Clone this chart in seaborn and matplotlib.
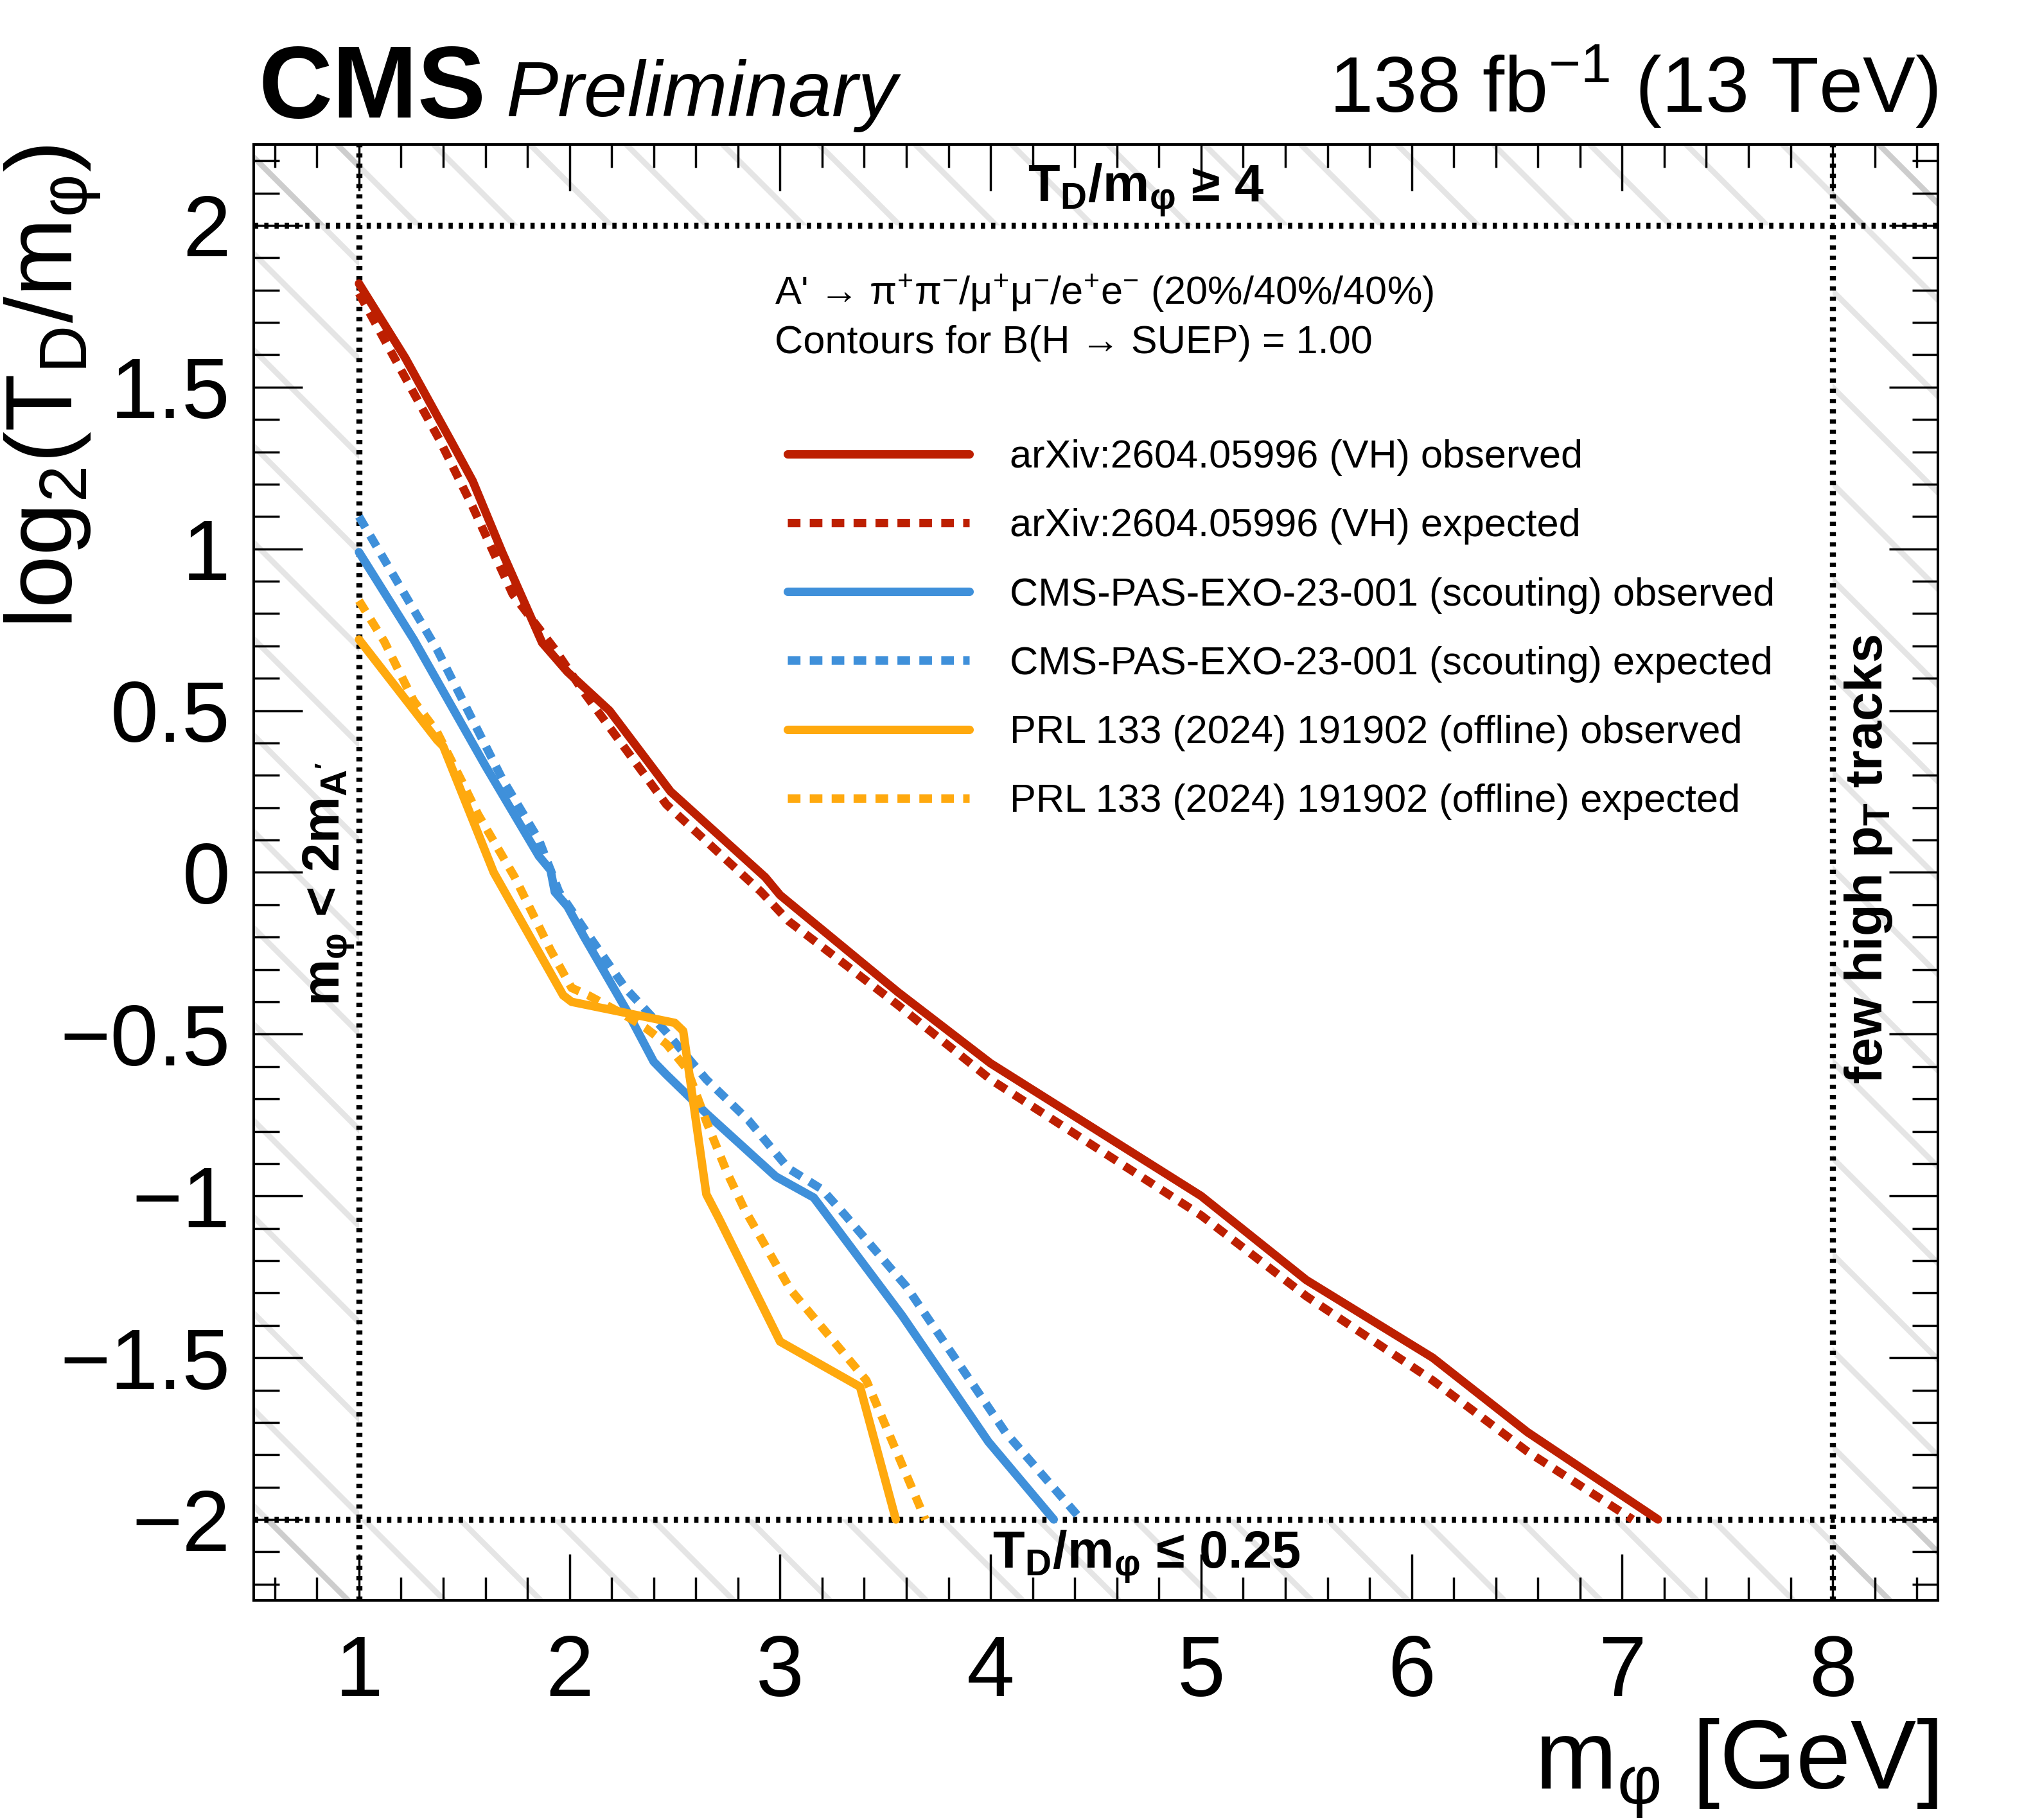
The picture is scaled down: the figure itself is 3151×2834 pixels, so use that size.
import matplotlib
matplotlib.use('Agg')
import matplotlib.pyplot as plt
from matplotlib.lines import Line2D
from matplotlib.ticker import MultipleLocator
import pandas as pd
import seaborn as sns

analyses = ['arXiv:2604.05996 (VH)',
            'CMS-PAS-EXO-23-001 (scouting)',
            'PRL 133 (2024) 191902 (offline)']
kinds = ['observed', 'expected']
colors = ['#bd1f01', '#3f90da', '#ffa90e']

# contour points: m_phi [GeV] vs log2(T_D/m_phi)
vh_obs_x = [1.0, 1.22, 1.44, 1.54, 1.68, 1.87, 1.99, 2.19, 2.48, 2.93, 3.00, 3.56, 4.0, 5.0, 5.5, 6.1, 6.55, 7.17]
vh_obs_y = [1.82, 1.59, 1.33, 1.21, 0.99, 0.71, 0.62, 0.50, 0.25, -0.015, -0.07, -0.37, -0.59, -1.0, -1.26, -1.5, -1.73, -2.0]
vh_exp_x = [1.0, 1.16, 1.38, 1.54, 1.73, 1.93, 2.07, 2.46, 2.91, 3.04, 3.56, 4.0, 5.0, 5.5, 6.1, 6.55, 7.05]
vh_exp_y = [1.79, 1.60, 1.34, 1.13, 0.86, 0.69, 0.555, 0.21, -0.06, -0.15, -0.41, -0.64, -1.06, -1.31, -1.57, -1.79, -2.0]

sc_obs_x = [1.0, 1.26, 1.60, 1.855, 1.91, 1.93, 1.99, 2.07, 2.27, 2.40, 2.46, 2.65, 2.98, 3.16, 3.58, 3.99, 4.30]
sc_obs_y = [0.99, 0.72, 0.33, 0.05, 0.007, -0.06, -0.105, -0.20, -0.425, -0.585, -0.625, -0.745, -0.94, -1.005, -1.37, -1.76, -2.0]
sc_exp_x = [1.0, 1.37, 1.68, 1.855, 1.95, 2.07, 2.265, 2.46, 2.65, 2.85, 3.04, 3.20, 3.31, 3.60, 4.07, 4.43]
sc_exp_y = [1.10, 0.69, 0.29, 0.10, -0.06, -0.175, -0.357, -0.494, -0.64, -0.766, -0.915, -0.98, -1.06, -1.28, -1.73, -2.0]

off_obs_x = [1.0, 1.37, 1.40, 1.64, 1.97, 2.01, 2.50, 2.54, 2.65, 2.71, 3.0, 3.38, 3.55]
off_obs_y = [0.72, 0.41, 0.39, 0.0, -0.38, -0.40, -0.465, -0.49, -0.995, -1.07, -1.45, -1.59, -2.0]
off_exp_x = [1.0, 1.12, 1.26, 1.37, 1.49, 1.565, 1.74, 1.91, 2.01, 2.09, 2.26, 2.36, 2.46, 2.56, 2.65, 2.75, 2.83, 3.05, 3.41, 3.69]
off_exp_y = [0.84, 0.714, 0.53, 0.435, 0.28, 0.18, -0.015, -0.24, -0.357, -0.38, -0.44, -0.48, -0.53, -0.61, -0.77, -0.93, -1.04, -1.29, -1.57, -2.0]

# validity boundaries and plot range
x_bounds = [1.0, 8.0]
y_bounds = [-2.0, 2.0]
x_range = (0.5, 8.5)
y_range = (-2.25, 2.25)

xticks = [1, 2, 3, 4, 5, 6, 7, 8]
xtick_labels = ['1', '2', '3', '4', '5', '6', '7', '8']
yticks = [-2, -1.5, -1, -0.5, 0, 0.5, 1, 1.5, 2]
ytick_labels = ['\u22122', '\u22121.5', '\u22121', '\u22120.5', '0', '0.5', '1', '1.5', '2']


def long_table():
    curves = [(analyses[0], 'observed', vh_obs_x, vh_obs_y),
              (analyses[0], 'expected', vh_exp_x, vh_exp_y),
              (analyses[1], 'observed', sc_obs_x, sc_obs_y),
              (analyses[1], 'expected', sc_exp_x, sc_exp_y),
              (analyses[2], 'observed', off_obs_x, off_obs_y),
              (analyses[2], 'expected', off_exp_x, off_exp_y)]
    rows = []
    for name, kind, xs, ys in curves:
        for x, y in zip(xs, ys):
            rows.append({'m_phi': x, 'log2': y, 'analysis': name, 'kind': kind})
    return pd.DataFrame(rows)


if __name__ == '__main__':
    sns.set_theme(style='ticks')
    plt.rcParams['font.family'] = ['Liberation Sans', 'DejaVu Sans']
    plt.rcParams['mathtext.fontset'] = 'custom'
    plt.rcParams['mathtext.rm'] = 'Liberation Sans'
    plt.rcParams['mathtext.it'] = 'Liberation Sans:italic'
    plt.rcParams['mathtext.bf'] = 'Liberation Sans:bold'
    plt.rcParams['mathtext.default'] = 'regular'
    plt.rcParams['hatch.linewidth'] = 1.4
    plt.rcParams['axes.linewidth'] = 0.65
    for key in ['text.color', 'axes.labelcolor', 'axes.edgecolor', 'xtick.color', 'ytick.color']:
        plt.rcParams[key] = 'black'

    dpi = 450
    fig = plt.figure(figsize=(3151 / dpi, 2834 / dpi))
    ax = fig.add_axes([0.12536, 0.12068, 0.83212, 0.79993])

    # hatched regions outside the validity boundaries
    hatch_kw = dict(facecolor='none', edgecolor=(0, 0, 0, 0.10), hatch='\\', lw=0, zorder=1)
    ax.axvspan(x_range[0], x_bounds[0], **hatch_kw)
    ax.axvspan(x_bounds[1], x_range[1], **hatch_kw)
    ax.axhspan(y_bounds[1], y_range[1], **hatch_kw)
    ax.axhspan(y_range[0], y_bounds[0], **hatch_kw)
    for xv in x_bounds:
        ax.axvline(xv, color='black', lw=1.5, dashes=(0.7, 1.0), zorder=4)
    for yv in y_bounds:
        ax.axhline(yv, color='black', lw=1.5, dashes=(0.7, 1.0), zorder=4)

    df = long_table()
    exp_dash = (1.5, 1.1)
    sns.lineplot(data=df, x='m_phi', y='log2', hue='analysis', style='kind',
                 hue_order=analyses, style_order=kinds, palette=colors,
                 dashes={'observed': '', 'expected': exp_dash},
                 estimator=None, sort=False, lw=2.1, legend=False, ax=ax, zorder=5)

    ax.set_xlim(*x_range)
    ax.set_ylim(*y_range)
    ax.set_xticks(xticks, xtick_labels)
    ax.set_yticks(yticks, ytick_labels)
    ax.xaxis.set_minor_locator(MultipleLocator(0.2))
    ax.yaxis.set_minor_locator(MultipleLocator(0.1))
    ax.tick_params(which='both', direction='in', top=True, right=True, width=0.55, color='black')
    ax.tick_params(axis='x', which='major', length=11.5, pad=8.3, labelsize=21.5)
    ax.tick_params(axis='x', which='minor', length=5.8)
    ax.tick_params(axis='y', which='major', length=12.2, pad=5.8, labelsize=21.5)
    ax.tick_params(axis='y', which='minor', length=6.4)
    for spine in ax.spines.values():
        spine.set_color('black')

    ax.set_xlabel('m$_{φ}$ [GeV]', fontsize=24.5, ha='right', va='baseline')
    ax.xaxis.set_label_coords(1.0, -0.129)
    ax.set_ylabel('log$_{2}$(T$_{D}$/m$_{φ}$)', fontsize=23.5, ha='right', va='top')
    ax.yaxis.set_label_coords(-0.149, 1.0)

    # CMS labels
    fig.text(0.1276, 0.9354, 'CMS', fontsize=25.5, fontweight='bold', va='baseline')
    fig.text(0.2498, 0.9361, 'Preliminary', fontsize=19.5, style='italic', va='baseline')
    fig.text(0.9575, 0.9386, '138 fb$^{-1}$ (13 TeV)', fontsize=19.6, ha='right', va='baseline')

    # region annotations
    bold = dict(fontsize=13, fontweight='bold')
    ax.text(4.74, 2.073, 'T$_{D}$/m$_{φ}$ ≥ 4', ha='center', va='baseline', **bold)
    ax.text(4.74, -2.15, 'T$_{D}$/m$_{φ}$ ≤ 0.25', ha='center', va='baseline', **bold)
    ax.text(0.86, -0.036, "m$_{φ}$ < 2m$_{A'}$", rotation=90, ha='center', va='center', **bold)
    ax.text(8.17, 0.04, 'few high p$_{T}$ tracks', rotation=90, ha='center', va='center', **bold)

    ax.text(0.3094, 0.8906, "A' → π$^{+}$π$^{-}$/μ$^{+}$μ$^{-}$/e$^{+}$e$^{-}$ (20%/40%/40%)",
            transform=ax.transAxes, fontsize=9.8, va='baseline')
    ax.text(0.3094, 0.8566, 'Contours for B(H → SUEP) = 1.00',
            transform=ax.transAxes, fontsize=9.8, va='baseline')

    handles, labels = [], []
    for name, c in zip(analyses, colors):
        handles.append(Line2D([], [], color=c, lw=2.1, linestyle='-'))
        labels.append(name + ' observed')
        handles.append(Line2D([], [], color=c, lw=2.1, dashes=exp_dash))
        labels.append(name + ' expected')
    ax.legend(handles, labels, loc='upper left', bbox_to_anchor=(0.317, 0.7975),
              frameon=False, fontsize=9.8, handlelength=4.62, handletextpad=1.03,
              labelspacing=0.82, borderpad=0, borderaxespad=0)

    fig.savefig('out.png', dpi=dpi)
